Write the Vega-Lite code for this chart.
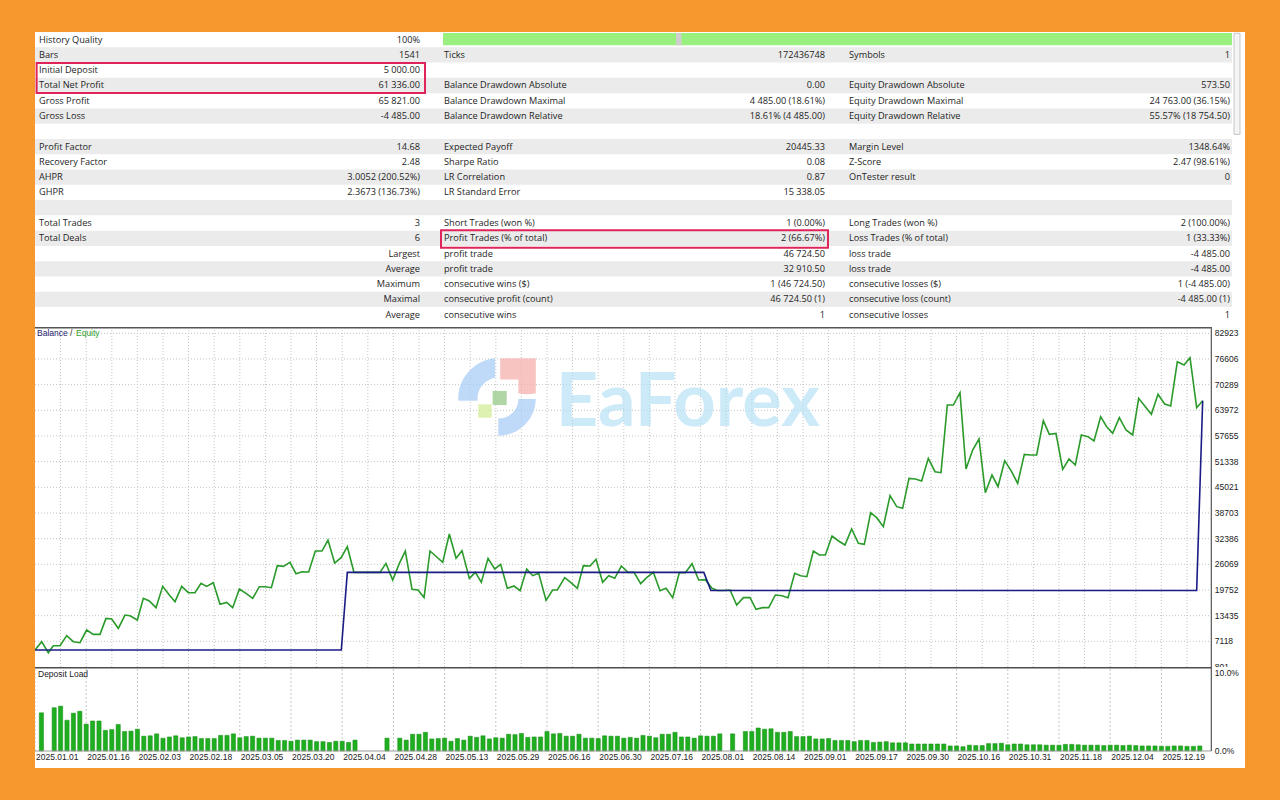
{
  "$schema": "https://vega.github.io/schema/vega-lite/v6.json",
  "background": "#F7982F",
  "padding": {"left": 35, "top": 32, "right": 35, "bottom": 32},
  "spacing": 0,
  "bounds": "flush",
  "config": {
    "view": {"stroke": null, "fill": "#ffffff"},
    "font": "Liberation Sans",
    "scale": {"continuousPadding": 0}
  },
  "datasets": {
    "one": [{}],
    "table": [
      {"r":0,"c":0,"k":"History Quality","v":"100%"},
      {"r":1,"c":0,"k":"Bars","v":"1541"},
      {"r":1,"c":1,"k":"Ticks","v":"172436748"},
      {"r":1,"c":2,"k":"Symbols","v":"1"},
      {"r":2,"c":0,"k":"Initial Deposit","v":"5 000.00"},
      {"r":3,"c":0,"k":"Total Net Profit","v":"61 336.00"},
      {"r":3,"c":1,"k":"Balance Drawdown Absolute","v":"0.00"},
      {"r":3,"c":2,"k":"Equity Drawdown Absolute","v":"573.50"},
      {"r":4,"c":0,"k":"Gross Profit","v":"65 821.00"},
      {"r":4,"c":1,"k":"Balance Drawdown Maximal","v":"4 485.00 (18.61%)"},
      {"r":4,"c":2,"k":"Equity Drawdown Maximal","v":"24 763.00 (36.15%)"},
      {"r":5,"c":0,"k":"Gross Loss","v":"-4 485.00"},
      {"r":5,"c":1,"k":"Balance Drawdown Relative","v":"18.61% (4 485.00)"},
      {"r":5,"c":2,"k":"Equity Drawdown Relative","v":"55.57% (18 754.50)"},
      {"r":7,"c":0,"k":"Profit Factor","v":"14.68"},
      {"r":7,"c":1,"k":"Expected Payoff","v":"20445.33"},
      {"r":7,"c":2,"k":"Margin Level","v":"1348.64%"},
      {"r":8,"c":0,"k":"Recovery Factor","v":"2.48"},
      {"r":8,"c":1,"k":"Sharpe Ratio","v":"0.08"},
      {"r":8,"c":2,"k":"Z-Score","v":"2.47 (98.61%)"},
      {"r":9,"c":0,"k":"AHPR","v":"3.0052 (200.52%)"},
      {"r":9,"c":1,"k":"LR Correlation","v":"0.87"},
      {"r":9,"c":2,"k":"OnTester result","v":"0"},
      {"r":10,"c":0,"k":"GHPR","v":"2.3673 (136.73%)"},
      {"r":10,"c":1,"k":"LR Standard Error","v":"15 338.05"},
      {"r":12,"c":0,"k":"Total Trades","v":"3"},
      {"r":12,"c":1,"k":"Short Trades (won %)","v":"1 (0.00%)"},
      {"r":12,"c":2,"k":"Long Trades (won %)","v":"2 (100.00%)"},
      {"r":13,"c":0,"k":"Total Deals","v":"6"},
      {"r":13,"c":1,"k":"Profit Trades (% of total)","v":"2 (66.67%)"},
      {"r":13,"c":2,"k":"Loss Trades (% of total)","v":"1 (33.33%)"},
      {"r":14,"c":0,"k":"","v":"Largest"},
      {"r":14,"c":1,"k":"profit trade","v":"46 724.50"},
      {"r":14,"c":2,"k":"loss trade","v":"-4 485.00"},
      {"r":15,"c":0,"k":"","v":"Average"},
      {"r":15,"c":1,"k":"profit trade","v":"32 910.50"},
      {"r":15,"c":2,"k":"loss trade","v":"-4 485.00"},
      {"r":16,"c":0,"k":"","v":"Maximum"},
      {"r":16,"c":1,"k":"consecutive wins ($)","v":"1 (46 724.50)"},
      {"r":16,"c":2,"k":"consecutive losses ($)","v":"1 (-4 485.00)"},
      {"r":17,"c":0,"k":"","v":"Maximal"},
      {"r":17,"c":1,"k":"consecutive profit (count)","v":"46 724.50 (1)"},
      {"r":17,"c":2,"k":"consecutive loss (count)","v":"-4 485.00 (1)"},
      {"r":18,"c":0,"k":"","v":"Average"},
      {"r":18,"c":1,"k":"consecutive wins","v":"1"},
      {"r":18,"c":2,"k":"consecutive losses","v":"1"}
    ],
    "stripes": [{"r":1},{"r":3},{"r":5},{"r":7},{"r":9},{"r":11},{"r":13},{"r":15},{"r":17}],
    "yticks": [{"v":801},{"v":7118},{"v":13435},{"v":19752},{"v":26069},{"v":32386},{"v":38703},{"v":45021},{"v":51338},{"v":57655},{"v":63972},{"v":70289},{"v":76606},{"v":82923}],
    "xgrid": [{"i":4},{"i":8},{"i":12},{"i":16},{"i":20},{"i":24},{"i":28},{"i":32},{"i":36},{"i":40},{"i":44},{"i":48},{"i":52},{"i":56},{"i":60},{"i":64},{"i":68},{"i":72},{"i":76},{"i":80},{"i":84},{"i":88},{"i":92},{"i":96},{"i":100},{"i":104},{"i":108},{"i":112},{"i":116},{"i":120},{"i":124},{"i":128},{"i":132},{"i":136},{"i":140},{"i":144},{"i":148},{"i":152},{"i":156},{"i":160},{"i":164},{"i":168},{"i":172},{"i":176},{"i":180}],
    "pticks": [{"p":0,"l":"0.0%"},{"p":10,"l":"10.0%"}],
    "balance": [
      {"i":0,"v":5000},{"i":47.86,"v":5000},{"i":48.8,"v":24096.5},{"i":104.5,"v":24096.5},
      {"i":105.6,"v":19611.5},{"i":181.51,"v":19611.5},{"i":182.45,"v":66336}
    ],
    "equity": [
      {"i":0,"v":5000},{"i":1.04,"v":7033},{"i":2.08,"v":4327},{"i":2.86,"v":6049},{"i":3.91,"v":6049},
      {"i":4.95,"v":8509},{"i":5.99,"v":7033},{"i":7.03,"v":6787},{"i":8.07,"v":9903},{"i":9.11,"v":8837},
      {"i":10.16,"v":8837},{"i":11.09,"v":12773},{"i":11.98,"v":12609},{"i":13.02,"v":10313},{"i":14.06,"v":13593},
      {"i":14.84,"v":13429},{"i":15.99,"v":12363},{"i":16.93,"v":17693},{"i":17.86,"v":17037},{"i":18.91,"v":15397},
      {"i":19.95,"v":20645},{"i":20.99,"v":18513},{"i":21.88,"v":16873},{"i":22.92,"v":20645},{"i":23.96,"v":19087},
      {"i":25,"v":19087},{"i":25.94,"v":21383},{"i":26.82,"v":20645},{"i":27.86,"v":21547},{"i":28.91,"v":16217},
      {"i":29.95,"v":16709},{"i":30.89,"v":15397},{"i":31.93,"v":19989},{"i":32.97,"v":18923},{"i":34.01,"v":17693},
      {"i":35.05,"v":20563},{"i":35.99,"v":20563},{"i":36.93,"v":20317},{"i":37.86,"v":25729},{"i":38.8,"v":25565},
      {"i":39.84,"v":26549},{"i":40.78,"v":23761},{"i":41.72,"v":24253},{"i":42.76,"v":24171},{"i":43.8,"v":29337},
      {"i":44.84,"v":29337},{"i":45.78,"v":32043},{"i":46.82,"v":26385},{"i":47.86,"v":27779},{"i":48.8,"v":30403},
      {"i":49.84,"v":24097},{"i":53.9,"v":24097},{"i":54.84,"v":26311},{"i":55.89,"v":22211},{"i":56.93,"v":26311},
      {"i":57.86,"v":29337},{"i":58.91,"v":19914},{"i":59.84,"v":19751},{"i":60.79,"v":17900},{"i":61.72,"v":29347},
      {"i":63.7,"v":26558},{"i":64.74,"v":33531},{"i":65.79,"v":27543},{"i":66.72,"v":29430},{"i":67.87,"v":22621},
      {"i":68.81,"v":24098},{"i":69.74,"v":21637},{"i":70.79,"v":27543},{"i":71.83,"v":24918},{"i":72.76,"v":26066},
      {"i":73.8,"v":20160},{"i":74.85,"v":20734},{"i":75.79,"v":19586},{"i":76.83,"v":24918},{"i":77.76,"v":23277},
      {"i":78.7,"v":23851},{"i":79.85,"v":17207},{"i":80.89,"v":19750},{"i":81.62,"v":19750},{"i":82.76,"v":22785},
      {"i":83.7,"v":21637},{"i":84.74,"v":20160},{"i":85.68,"v":25738},{"i":86.72,"v":25656},{"i":87.66,"v":27297},
      {"i":88.7,"v":21637},{"i":89.64,"v":23277},{"i":90.58,"v":22621},{"i":91.62,"v":25656},{"i":92.66,"v":24098},
      {"i":93.6,"v":24098},{"i":94.64,"v":21309},{"i":95.57,"v":22785},{"i":96.62,"v":24098},{"i":97.66,"v":19586},
      {"i":98.6,"v":20160},{"i":99.64,"v":17863},{"i":100.68,"v":24016},{"i":101.62,"v":24016},{"i":102.66,"v":26230},
      {"i":103.7,"v":22211},{"i":104.74,"v":22293},{"i":105.78,"v":20160},{"i":106.62,"v":19612},{"i":107.6,"v":19612},
      {"i":108.6,"v":19750},{"i":109.64,"v":16058},{"i":110.68,"v":17863},{"i":111.72,"v":17863},{"i":112.66,"v":14992},
      {"i":113.7,"v":15402},{"i":114.64,"v":15402},{"i":115.68,"v":18520},{"i":116.72,"v":18356},{"i":117.66,"v":17863},
      {"i":118.7,"v":23851},{"i":119.64,"v":23277},{"i":120.6,"v":23031},{"i":121.62,"v":29347},{"i":122.56,"v":28363},
      {"i":123.49,"v":28363},{"i":124.53,"v":33039},{"i":125.57,"v":31809},{"i":126.56,"v":30824},{"i":127.6,"v":34761},
      {"i":128.65,"v":31235},{"i":129.58,"v":30989},{"i":130.57,"v":38781},{"i":131.51,"v":37551},{"i":132.55,"v":35336},
      {"i":133.6,"v":42964},{"i":134.64,"v":40257},{"i":135.57,"v":39847},{"i":136.56,"v":47229},{"i":137.55,"v":47065},
      {"i":138.54,"v":46574},{"i":139.58,"v":52152},{"i":140.63,"v":48870},{"i":141.56,"v":48624},{"i":142.55,"v":65277},
      {"i":143.49,"v":65277},{"i":144.53,"v":68312},{"i":145.47,"v":49527},{"i":146.51,"v":54203},{"i":147.5,"v":56910},
      {"i":148.49,"v":43702},{"i":149.53,"v":48050},{"i":150.47,"v":45179},{"i":151.51,"v":51577},{"i":152.6,"v":48870},
      {"i":153.54,"v":45999},{"i":154.58,"v":53137},{"i":155.57,"v":52972},{"i":156.51,"v":52972},{"i":157.55,"v":61421},
      {"i":158.49,"v":58058},{"i":159.53,"v":58304},{"i":160.58,"v":49445},{"i":161.56,"v":51988},{"i":162.55,"v":50511},
      {"i":163.49,"v":57894},{"i":164.53,"v":57484},{"i":165.47,"v":56418},{"i":166.51,"v":62406},{"i":167.45,"v":59945},
      {"i":168.39,"v":58304},{"i":169.43,"v":62159},{"i":170.47,"v":59124},{"i":171.51,"v":57894},{"i":172.45,"v":66917},
      {"i":173.49,"v":64867},{"i":174.43,"v":62980},{"i":175.47,"v":67901},{"i":176.51,"v":65523},{"i":177.45,"v":65031},
      {"i":178.49,"v":75941},{"i":179.53,"v":75121},{"i":180.47,"v":76925},{"i":181.51,"v":64621},{"i":182.45,"v":66336}
    ],
    "load": [
      {"i":1,"p":4.9},{"i":3,"p":5.55},{"i":4,"p":5.75},{"i":5,"p":3.95},{"i":6,"p":4.85},{"i":7,"p":5.1},{"i":8,"p":3.45},
      {"i":9,"p":3.85},{"i":10,"p":3.85},{"i":11,"p":2.65},{"i":12,"p":2.75},{"i":13,"p":3.4},{"i":14,"p":2.5},{"i":15,"p":2.55},
      {"i":16,"p":2.8},{"i":17,"p":1.9},{"i":18,"p":1.95},{"i":19,"p":2.2},{"i":20,"p":1.65},{"i":21,"p":1.8},{"i":22,"p":1.95},
      {"i":23,"p":1.7},{"i":24,"p":1.8},{"i":25,"p":1.85},{"i":26,"p":1.6},{"i":27,"p":1.6},{"i":28,"p":1.6},{"i":29,"p":2.0},
      {"i":30,"p":2.0},{"i":31,"p":2.2},{"i":32,"p":1.7},{"i":33,"p":1.85},{"i":34,"p":1.9},{"i":35,"p":1.65},{"i":36,"p":1.65},
      {"i":37,"p":1.65},{"i":38,"p":1.35},{"i":39,"p":1.35},{"i":40,"p":1.25},{"i":41,"p":1.4},{"i":42,"p":1.4},{"i":43,"p":1.4},
      {"i":44,"p":1.2},{"i":45,"p":1.2},{"i":46,"p":1.1},{"i":47,"p":1.25},{"i":48,"p":1.25},{"i":49,"p":1.1},{"i":50,"p":1.4},
      {"i":55,"p":1.65},{"i":57,"p":1.65},{"i":58,"p":1.4},{"i":59,"p":2.15},{"i":60,"p":2.15},{"i":61,"p":2.4},{"i":62,"p":1.55},
      {"i":63,"p":1.6},{"i":64,"p":1.65},{"i":65,"p":1.25},{"i":66,"p":1.6},{"i":67,"p":1.4},{"i":68,"p":1.9},{"i":69,"p":1.75},
      {"i":70,"p":1.95},{"i":71,"p":1.55},{"i":72,"p":1.7},{"i":73,"p":1.65},{"i":74,"p":2.15},{"i":75,"p":2.1},{"i":76,"p":2.25},
      {"i":77,"p":1.75},{"i":78,"p":1.8},{"i":79,"p":1.8},{"i":80,"p":2.5},{"i":81,"p":2.2},{"i":82,"p":2.25},{"i":83,"p":1.9},
      {"i":84,"p":1.9},{"i":85,"p":2.15},{"i":86,"p":1.65},{"i":87,"p":1.65},{"i":88,"p":1.6},{"i":89,"p":1.95},{"i":90,"p":1.9},
      {"i":91,"p":1.9},{"i":92,"p":1.65},{"i":93,"p":1.75},{"i":94,"p":1.65},{"i":95,"p":2.0},{"i":96,"p":1.9},{"i":97,"p":1.7},
      {"i":98,"p":2.15},{"i":99,"p":2.15},{"i":100,"p":2.4},{"i":101,"p":1.8},{"i":102,"p":1.8},{"i":103,"p":1.65},{"i":104,"p":1.95},
      {"i":105,"p":1.9},{"i":106,"p":1.9},{"i":107,"p":2.2},{"i":109,"p":2.2},{"i":111,"p":2.5},{"i":112,"p":2.5},{"i":113,"p":2.95},
      {"i":114,"p":2.8},{"i":115,"p":2.85},{"i":116,"p":2.4},{"i":117,"p":2.4},{"i":118,"p":2.5},{"i":119,"p":1.85},{"i":120,"p":1.85},
      {"i":121,"p":1.9},{"i":122,"p":1.55},{"i":123,"p":1.55},{"i":124,"p":1.6},{"i":125,"p":1.35},{"i":126,"p":1.35},{"i":127,"p":1.35},
      {"i":128,"p":1.2},{"i":129,"p":1.35},{"i":130,"p":1.35},{"i":131,"p":1.1},{"i":132,"p":1.15},{"i":133,"p":1.2},{"i":134,"p":1.05},
      {"i":135,"p":1.05},{"i":136,"p":1.05},{"i":137,"p":0.9},{"i":138,"p":0.9},{"i":139,"p":0.9},{"i":140,"p":0.9},{"i":141,"p":0.9},
      {"i":142,"p":0.9},{"i":143,"p":0.65},{"i":144,"p":0.65},{"i":145,"p":0.55},{"i":146,"p":0.75},{"i":147,"p":0.7},{"i":148,"p":0.7},
      {"i":149,"p":0.95},{"i":150,"p":0.95},{"i":151,"p":1.0},{"i":152,"p":0.8},{"i":153,"p":0.9},{"i":154,"p":0.9},{"i":155,"p":0.8},
      {"i":156,"p":0.8},{"i":157,"p":0.8},{"i":158,"p":0.75},{"i":159,"p":0.75},{"i":160,"p":0.75},{"i":161,"p":0.85},{"i":162,"p":0.85},
      {"i":163,"p":0.8},{"i":164,"p":0.75},{"i":165,"p":0.75},{"i":166,"p":0.75},{"i":167,"p":0.7},{"i":168,"p":0.75},{"i":169,"p":0.75},
      {"i":170,"p":0.7},{"i":171,"p":0.75},{"i":172,"p":0.7},{"i":173,"p":0.65},{"i":174,"p":0.65},{"i":175,"p":0.65},{"i":176,"p":0.6},
      {"i":177,"p":0.6},{"i":178,"p":0.65},{"i":179,"p":0.65},{"i":180,"p":0.6},{"i":181,"p":0.6},{"i":182,"p":0.65}
    ],
    "dates": [
      {"i":0,"d":"2025.01.01"},{"i":8,"d":"2025.01.16"},{"i":16,"d":"2025.02.03"},{"i":24,"d":"2025.02.18"},
      {"i":32,"d":"2025.03.05"},{"i":40,"d":"2025.03.20"},{"i":48,"d":"2025.04.04"},{"i":56,"d":"2025.04.28"},
      {"i":64,"d":"2025.05.13"},{"i":72,"d":"2025.05.29"},{"i":80,"d":"2025.06.16"},{"i":88,"d":"2025.06.30"},
      {"i":96,"d":"2025.07.16"},{"i":104,"d":"2025.08.01"},{"i":112,"d":"2025.08.14"},{"i":120,"d":"2025.09.01"},
      {"i":128,"d":"2025.09.17"},{"i":136,"d":"2025.09.30"},{"i":144,"d":"2025.10.16"},{"i":152,"d":"2025.10.31"},
      {"i":160,"d":"2025.11.18"},{"i":168,"d":"2025.12.04"},{"i":176,"d":"2025.12.19"}
    ]
  },
  "vconcat": [
    {
      "width": 1210,
      "height": 295,
      "layer": [
        {
          "data": {"name": "stripes"},
          "mark": {"type": "bar", "orient": "horizontal", "color": "#EBEBEB", "height": 15.3, "clip": true},
          "encoding": {
            "y": {"field": "r", "type": "quantitative", "scale": {"domain": [-0.5, 18.806], "reverse": true, "nice": false, "zero": false, "padding": 0}, "axis": null},
            "x": {"datum": 0, "type": "quantitative", "scale": {"domain": [0, 2.98765], "nice": false, "zero": false, "padding": 0}, "axis": null},
            "x2": {"datum": 2.9556}
          }
        },
        {
          "data": {"name": "one"},
          "mark": {"type": "rect", "color": "#9AF07F"},
          "encoding": {
            "x": {"datum": 1.0074, "type": "quantitative", "axis": null},
            "x2": {"datum": 2.9556},
            "y": {"datum": -0.43, "type": "quantitative", "axis": null},
            "y2": {"datum": 0.37}
          }
        },
        {
          "data": {"name": "one"},
          "mark": {"type": "rect", "color": "#CFCFCF"},
          "encoding": {
            "x": {"datum": 1.5827, "type": "quantitative", "axis": null},
            "x2": {"datum": 1.5963},
            "y": {"datum": -0.43, "type": "quantitative", "axis": null},
            "y2": {"datum": 0.37}
          }
        },
        {
          "data": {"name": "one"},
          "mark": {"type": "rect", "fill": "#F4F4F4", "stroke": "#C6C6C6", "strokeWidth": 1},
          "encoding": {
            "x": {"datum": 2.9605, "type": "quantitative", "axis": null},
            "x2": {"datum": 2.9753},
            "y": {"datum": -0.42, "type": "quantitative", "axis": null},
            "y2": {"datum": 6.2}
          }
        },
        {
          "data": {"name": "table"},
          "mark": {"type": "text", "align": "left", "baseline": "middle", "dx": 4, "font": "Open Sans", "fontSize": 9.2, "color": "#1E1E1E"},
          "encoding": {
            "x": {"field": "c", "type": "quantitative", "axis": null},
            "y": {"field": "r", "type": "quantitative", "axis": null},
            "text": {"field": "k"}
          }
        },
        {
          "data": {"name": "table"},
          "mark": {"type": "text", "align": "right", "baseline": "middle", "dx": 385, "font": "Open Sans", "fontSize": 9.2, "color": "#1E1E1E"},
          "encoding": {
            "x": {"field": "c", "type": "quantitative", "axis": null},
            "y": {"field": "r", "type": "quantitative", "axis": null},
            "text": {"field": "v"}
          }
        },
        {
          "data": {"name": "one"},
          "mark": {"type": "rect", "fillOpacity": 0, "stroke": "#E0245A", "strokeWidth": 2, "clip": true},
          "encoding": {
            "x": {"datum": 0.004, "type": "quantitative", "axis": null},
            "x2": {"datum": 0.963},
            "y": {"datum": 1.53, "type": "quantitative", "axis": null},
            "y2": {"datum": 3.49}
          }
        },
        {
          "data": {"name": "one"},
          "mark": {"type": "rect", "fillOpacity": 0, "stroke": "#E0245A", "strokeWidth": 2},
          "encoding": {
            "x": {"datum": 1.0025, "type": "quantitative", "axis": null},
            "x2": {"datum": 1.958},
            "y": {"datum": 12.47, "type": "quantitative", "axis": null},
            "y2": {"datum": 13.62}
          }
        }
      ]
    },
    {
      "width": 1210,
      "height": 340,
      "layer": [
        {
          "data": {"name": "yticks"},
          "transform": [{"filter": "datum.v > 801"}],
          "mark": {"type": "rule", "color": "#C4C4C4", "strokeDash": [1, 2], "strokeWidth": 1, "clip": true},
          "encoding": {
            "y": {"field": "v", "type": "quantitative", "scale": {"domain": [801, 84475], "nice": false, "zero": false}, "axis": null},
            "x": {"datum": 0, "type": "quantitative", "scale": {"domain": [0, 189.0625], "nice": false, "zero": false}, "axis": null},
            "x2": {"datum": 183.8}
          }
        },
        {
          "data": {"name": "xgrid"},
          "mark": {"type": "rule", "color": "#C4C4C4", "strokeDash": [1, 2], "strokeWidth": 1, "clip": true},
          "encoding": {
            "x": {"field": "i", "type": "quantitative", "axis": null},
            "y": {"datum": 801, "type": "quantitative", "axis": null},
            "y2": {"datum": 84475}
          }
        },
        {
          "data": {"name": "one"},
          "mark": {"type": "text", "text": "EaForex", "align": "center", "baseline": "middle", "font": "Lato", "fontWeight": "bold", "fontSize": 74, "color": "#B3DFF6", "opacity": 0.65},
          "encoding": {
            "x": {"datum": 102, "type": "quantitative", "axis": null},
            "y": {"datum": 65600, "type": "quantitative", "axis": null}
          }
        },
        {
          "data": {"name": "one"},
          "mark": {"type": "point", "filled": true, "size": 6000, "color": "#A9CDF6", "opacity": 0.75, "shape": "M -1,0.1 A 1.05,1.05 0 0,1 -0.05,-1 L -0.05,-0.5 A 0.55,0.55 0 0,0 -0.5,0.1 Z"},
          "encoding": {
            "x": {"datum": 72.2, "type": "quantitative", "axis": null},
            "y": {"datum": 67248, "type": "quantitative", "axis": null}
          }
        },
        {
          "data": {"name": "one"},
          "mark": {"type": "point", "filled": true, "size": 6000, "color": "#F6B0AE", "opacity": 0.75, "shape": "M 0.08,-1 L 1,-1 L 1,-0.1 A 0.95,0.95 0 0,1 0.55,-0.1 L 0.55,-0.45 L 0.08,-0.45 Z"},
          "encoding": {
            "x": {"datum": 72.2, "type": "quantitative", "axis": null},
            "y": {"datum": 67248, "type": "quantitative", "axis": null}
          }
        },
        {
          "data": {"name": "one"},
          "mark": {"type": "point", "filled": true, "size": 6000, "color": "#A9CDF6", "opacity": 0.75, "shape": "M 1,0.05 A 0.97,0.97 0 0,1 0.03,1 L 0.03,0.55 A 0.5,0.5 0 0,0 0.55,0.05 Z"},
          "encoding": {
            "x": {"datum": 72.2, "type": "quantitative", "axis": null},
            "y": {"datum": 67248, "type": "quantitative", "axis": null}
          }
        },
        {
          "data": {"name": "one"},
          "mark": {"type": "point", "filled": true, "size": 200, "shape": "square", "color": "#9ECC8E", "opacity": 0.8},
          "encoding": {
            "x": {"datum": 72.6, "type": "quantitative", "axis": null},
            "y": {"datum": 67000, "type": "quantitative", "axis": null}
          }
        },
        {
          "data": {"name": "one"},
          "mark": {"type": "point", "filled": true, "size": 180, "shape": "square", "color": "#D7EE9C", "opacity": 0.8},
          "encoding": {
            "x": {"datum": 70.3, "type": "quantitative", "axis": null},
            "y": {"datum": 63800, "type": "quantitative", "axis": null}
          }
        },
        {
          "data": {"name": "equity"},
          "mark": {"type": "line", "color": "#2A9A2A", "strokeWidth": 1.6, "clip": true},
          "encoding": {
            "x": {"field": "i", "type": "quantitative", "axis": null},
            "y": {"field": "v", "type": "quantitative", "axis": null}
          }
        },
        {
          "data": {"name": "balance"},
          "mark": {"type": "line", "color": "#1B1B86", "strokeWidth": 1.6, "clip": true},
          "encoding": {
            "x": {"field": "i", "type": "quantitative", "axis": null},
            "y": {"field": "v", "type": "quantitative", "axis": null}
          }
        },
        {
          "data": {"name": "one"},
          "mark": {"type": "rule", "color": "#555555", "strokeWidth": 3, "clip": true},
          "encoding": {
            "x": {"datum": 0, "type": "quantitative", "axis": null},
            "x2": {"datum": 183.8},
            "y": {"datum": 84475, "type": "quantitative", "axis": null}
          }
        },
        {
          "data": {"name": "one"},
          "mark": {"type": "rule", "color": "#555555", "strokeWidth": 1.2},
          "encoding": {
            "x": {"datum": 183.8, "type": "quantitative", "axis": null},
            "y": {"datum": 801, "type": "quantitative", "axis": null},
            "y2": {"datum": 84475}
          }
        },
        {
          "data": {"name": "yticks"},
          "mark": {"type": "text", "align": "left", "baseline": "middle", "dx": 3.5, "fontSize": 8.5, "color": "#222222"},
          "encoding": {
            "x": {"datum": 183.8, "type": "quantitative", "axis": null},
            "y": {"field": "v", "type": "quantitative", "axis": null},
            "text": {"field": "v", "type": "quantitative", "format": "d"}
          }
        },
        {
          "data": {"name": "one"},
          "mark": {"type": "text", "text": "Balance", "align": "left", "baseline": "middle", "dx": 2, "fontSize": 8.5, "color": "#23236E"},
          "encoding": {
            "x": {"datum": 0, "type": "quantitative", "axis": null},
            "y": {"datum": 82923, "type": "quantitative", "axis": null}
          }
        },
        {
          "data": {"name": "one"},
          "mark": {"type": "text", "text": "/", "align": "left", "baseline": "middle", "dx": 35, "fontSize": 8.5, "color": "#333333"},
          "encoding": {
            "x": {"datum": 0, "type": "quantitative", "axis": null},
            "y": {"datum": 82923, "type": "quantitative", "axis": null}
          }
        },
        {
          "data": {"name": "one"},
          "mark": {"type": "text", "text": "Equity", "align": "left", "baseline": "middle", "dx": 41, "fontSize": 8.5, "color": "#2E9E2E"},
          "encoding": {
            "x": {"datum": 0, "type": "quantitative", "axis": null},
            "y": {"datum": 82923, "type": "quantitative", "axis": null}
          }
        }
      ]
    },
    {
      "width": 1210,
      "height": 101,
      "layer": [
        {
          "data": {"name": "dates"},
          "mark": {"type": "rule", "color": "#C4C4C4", "strokeDash": [2, 2], "strokeWidth": 1, "clip": true},
          "encoding": {
            "x": {"field": "i", "type": "quantitative", "scale": {"domain": [0, 189.0625], "nice": false, "zero": false, "padding": 0}, "axis": null},
            "y": {"datum": 0, "type": "quantitative", "scale": {"domain": [-2.18, 10.77], "nice": false, "zero": false, "padding": 0}, "axis": null},
            "y2": {"datum": 10.77}
          }
        },
        {
          "data": {"name": "load"},
          "mark": {"type": "bar", "width": 4.2, "color": "#1FAE1F", "stroke": "#138A13", "strokeWidth": 0.5, "clip": true},
          "encoding": {
            "x": {"field": "i", "type": "quantitative", "axis": null},
            "y": {"field": "p", "type": "quantitative", "axis": null},
            "y2": {"datum": 0}
          }
        },
        {
          "data": {"name": "one"},
          "mark": {"type": "rule", "color": "#9A9A9A", "strokeWidth": 1, "clip": true},
          "encoding": {
            "x": {"datum": 0, "type": "quantitative", "axis": null},
            "x2": {"datum": 183.8},
            "y": {"datum": 0, "type": "quantitative", "axis": null}
          }
        },
        {
          "data": {"name": "one"},
          "mark": {"type": "rule", "color": "#4D4D4D", "strokeWidth": 3, "clip": true},
          "encoding": {
            "x": {"datum": 0, "type": "quantitative", "axis": null},
            "x2": {"datum": 183.8},
            "y": {"datum": 10.77, "type": "quantitative", "axis": null}
          }
        },
        {
          "data": {"name": "one"},
          "mark": {"type": "rule", "color": "#555555", "strokeWidth": 1.2},
          "encoding": {
            "x": {"datum": 183.8, "type": "quantitative", "axis": null},
            "y": {"datum": 0, "type": "quantitative", "axis": null},
            "y2": {"datum": 10.77}
          }
        },
        {
          "data": {"name": "pticks"},
          "mark": {"type": "text", "align": "left", "baseline": "middle", "dx": 3.5, "fontSize": 8.5, "color": "#222222"},
          "encoding": {
            "x": {"datum": 183.8, "type": "quantitative", "axis": null},
            "y": {"field": "p", "type": "quantitative", "axis": null},
            "text": {"field": "l"}
          }
        },
        {
          "data": {"name": "one"},
          "mark": {"type": "text", "text": "Deposit Load", "align": "left", "baseline": "middle", "dx": 3, "fontSize": 8.5, "color": "#222222"},
          "encoding": {
            "x": {"datum": 0, "type": "quantitative", "axis": null},
            "y": {"datum": 9.9, "type": "quantitative", "axis": null}
          }
        },
        {
          "data": {"name": "dates"},
          "mark": {"type": "text", "align": "left", "baseline": "middle", "dx": 1, "fontSize": 8.5, "color": "#222222"},
          "encoding": {
            "x": {"field": "i", "type": "quantitative", "axis": null},
            "y": {"datum": -0.8, "type": "quantitative", "axis": null},
            "text": {"field": "d"}
          }
        }
      ]
    }
  ]
}
